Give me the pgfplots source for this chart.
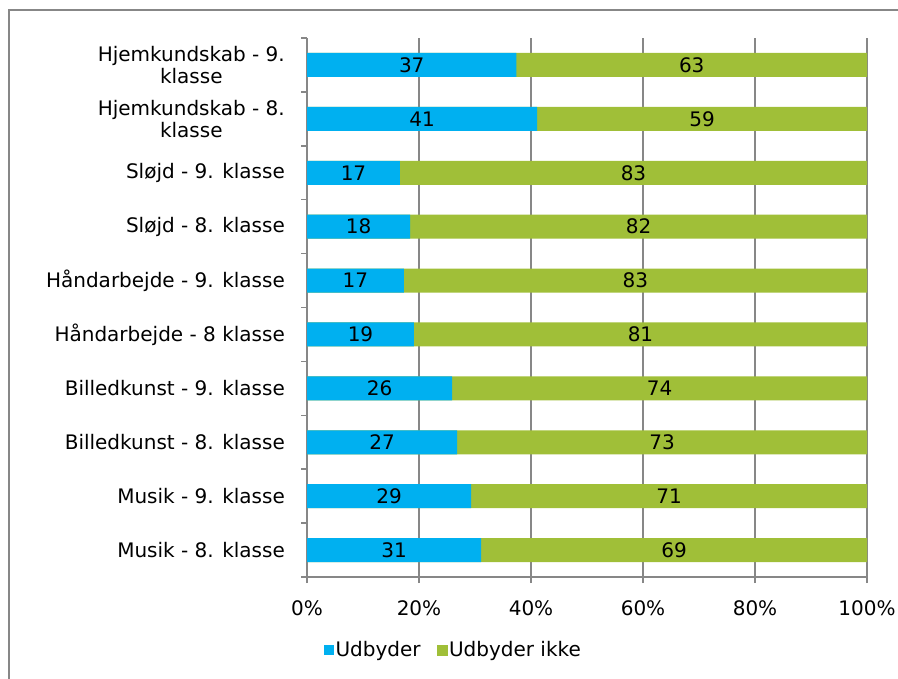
\documentclass[border=0pt]{standalone}
\usepackage{fontspec}
\setmainfont{DejaVu Sans}
\usepackage{pgfplots}
\pgfplotsset{compat=1.18}
\usepackage{pgfplotstable}
\definecolor{cblue}{HTML}{00B0F0}
\definecolor{cgreen}{HTML}{A0BF38}
\definecolor{cgrid}{HTML}{878787}
\newcommand{\cf}{\fontsize{20bp}{22bp}\selectfont}
\pgfplotstableread{
y u n tot umid nmid ul nl
0 31.1 68.9 100 15.55 65.55 31 69
1 29.3 70.7 100 14.65 64.65 29 71
2 26.8 73.2 100 13.4 63.4 27 73
3 25.9 74.1 100 12.95 62.95 26 74
4 19.1 80.9 100 9.55 59.55 19 81
5 17.3 82.7 100 8.65 58.65 17 83
6 18.4 81.6 100 9.2 59.2 18 82
7 16.6 83.4 100 8.3 58.3 17 83
8 41.1 58.9 100 20.55 70.55 41 59
9 37.4 62.6 100 18.7 68.7 37 63
}\data
\begin{document}
\begin{tikzpicture}[x=1bp,y=1bp]
\useasboundingbox (0,0) rectangle (898,-679);
\draw[cgrid, line width=1.5bp] (9,-679) -- (9,-10) -- (898,-10);
\begin{axis}[
  at={(307bp,-577bp)}, anchor=south west,
  scale only axis, width=560bp, height=539bp,
  xmin=0, xmax=100, ymin=-0.5, ymax=9.5,
  axis lines*=left,
  axis line style={cgrid, line width=1.5bp},
  xtick={0,20,40,60,80,100},
  xticklabels={0\%,20\%,40\%,60\%,80\%,100\%},
  xmajorgrids, grid style={cgrid, line width=1.5bp},
  tick align=outside,
  major tick length=6bp,
  x tick style={cgrid, line width=1.5bp},
  xtick pos=bottom, ytick pos=left,
  ytick={0,...,9},
  yticklabels={Musik - 8. klasse, Musik - 9. klasse, Billedkunst - 8. klasse, Billedkunst - 9. klasse, Håndarbejde - 8 klasse, Håndarbejde - 9. klasse, Sløjd - 8. klasse, Sløjd - 9. klasse, {Hjemkundskab - 8.\\klasse}, {Hjemkundskab - 9.\\klasse}},
  y tick style={draw=none},
  extra y ticks={-0.5,0.5,1.5,2.5,3.5,4.5,5.5,6.5,7.5,8.5,9.5},
  extra y tick labels={},
  extra y tick style={y tick style={draw=cgrid, line width=1.5bp}},
  yticklabel style={font=\cf, align=center, text=black, inner sep=0pt, xshift=-16bp},
  xticklabel style={font=\cf, text=black, yshift=-14bp},
  nodes near coords style={anchor=center, font=\cf, text=black},
  legend style={at={(0.261,-0.135)}, anchor=center, draw=none, fill=none, font=\cf,
    legend columns=2, /tikz/every even column/.append style={column sep=14bp},
    /tikz/every odd column/.append style={column sep=0bp}},
  clip=false,
]
\addplot[xbar, bar width=24bp, bar shift=0pt, fill=cgreen, draw=none, forget plot] table[x=tot, y=y] {\data};
\addplot[xbar, bar width=24bp, bar shift=0pt, fill=cblue, draw=none,
  legend image code/.code={\fill[cblue] (0bp,-5bp) rectangle (10bp,5bp);}] table[x=u, y=y] {\data};
\addlegendentry{Udbyder}
\addlegendimage{legend image code/.code={\fill[cgreen] (0bp,-5bp) rectangle (10bp,5bp);}}
\addlegendentry{Udbyder ikke}
\addplot[draw=none, mark=none, nodes near coords, point meta=explicit symbolic, forget plot] table[x=umid, y=y, meta=ul] {\data};
\addplot[draw=none, mark=none, nodes near coords, point meta=explicit symbolic, forget plot] table[x=nmid, y=y, meta=nl] {\data};
\end{axis}
\end{tikzpicture}
\end{document}
